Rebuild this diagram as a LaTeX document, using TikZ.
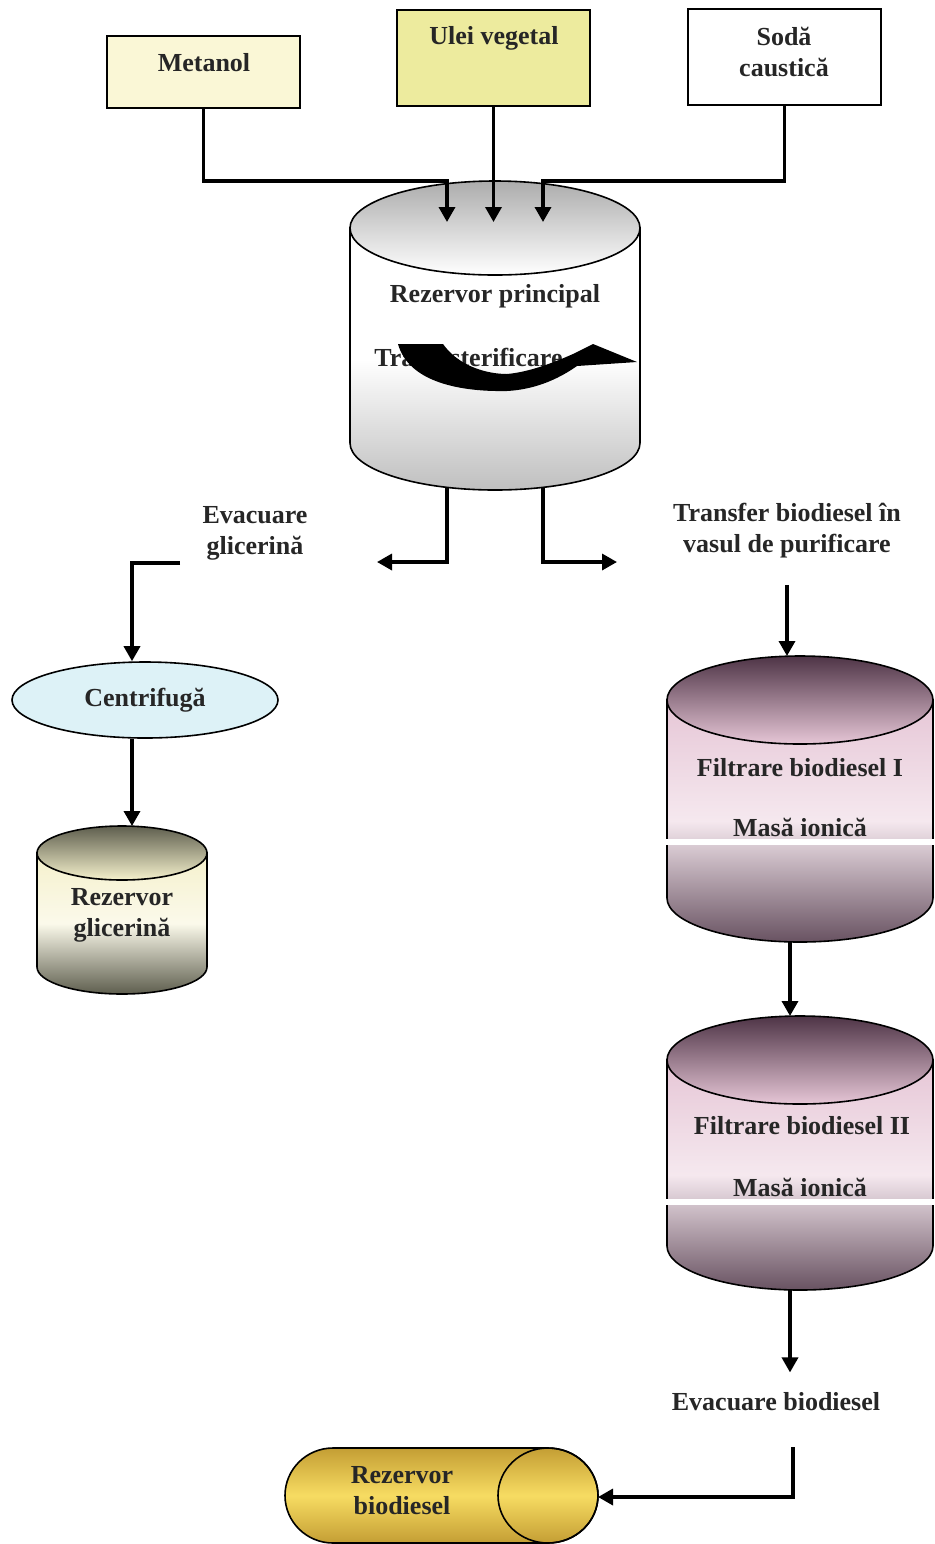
\documentclass[tikz,border=0pt]{standalone}
\usepackage{fontspec}
\setmainfont{Liberation Serif}
\usepackage{xcolor}
\definecolor{METcolor}{HTML}{FAF7D6}
\definecolor{ULEIcolor}{HTML}{EDEB9E}
\definecolor{CENTcolor}{HTML}{DDF2F7}
\definecolor{FILTdark}{HTML}{4E3446}
\definecolor{FILTpink}{HTML}{E6C6D6}
\definecolor{GLICdark}{HTML}{5E5E4E}
\definecolor{GLICbody}{HTML}{F5F1CC}
\definecolor{BIOdark}{HTML}{C49E34}
\definecolor{BIOlight}{HTML}{F7DC62}
\usepackage{tikz}
\usetikzlibrary{math, calc, arrows.meta, shapes.geometric}

\begin{document}
\begin{tikzpicture}[x=0.5pt, y=-0.5pt]
    \tikzset{%
        flow/.style={line width=1.7pt, -{Triangle[length=7.5pt, width=8pt]}},
        lbl/.style={font=\bfseries\fontsize{13}{15.5}\selectfont, align=center, text=black!85, inner sep=1pt},
        box/.style={draw, line width=0.8pt, minimum width=96.5pt},
        pics/tank/.style args={#1/#2/#3/#4/#5/#6}{code={%
                        \tikzmath{%
                            \trx=#1;
                            \trh=#2;
                            \try=#3;
                        };
                        % body
                        \shade [draw, line width=0.8pt, top color=#5, bottom color=#6, middle color=#5!40!white]
                            (-\trx, 0) -- (-\trx, \trh) arc [start angle=180, end angle=0, x radius=\trx, y radius=\try] -- (\trx, 0) -- cycle;
                        % lid
                        \shade [draw, line width=0.8pt, top color=#4, bottom color=#5] (0, 0) ellipse [x radius=\trx, y radius=\try];
                        \coordinate (-top) at (0, -\try);
                        \coordinate (-bot) at (0, \trh+\try);
                    }
            }
    }
    \useasboundingbox (0, 0) rectangle (935, 1544);

    % inputs
    \node [box, fill=METcolor, minimum height=36pt] (metanol) at (203.5, 72) {};
    \node [lbl] (metanollbl) at (204, 63) {Metanol};
    \node [box, fill=ULEIcolor, minimum height=48pt] (ulei) at (493.5, 58) {};
    \node [lbl] (uleilbl) at (494, 38) {Ulei vegetal};
    \node [box, fill=white, minimum height=48pt] (soda) at (784.5, 57) {};
    \node [lbl] (sodalbl) at (784, 52) {Sodă\\caustică};

    % tanks
    \pic (main) at (495, 228) {tank=145/215/47/gray!65/white/gray!50};
    \pic (filt1) at (800, 700) {tank=133/198/44/FILTdark/FILTpink/FILTdark!85};
    \pic (filt2) at (800, 1060) {tank=133/186/44/FILTdark/FILTpink/FILTdark!85};
    \pic (glic) at (122, 853) {tank=85/114/27/GLICdark/GLICbody/GLICdark};
    \fill [white] (660, 839) rectangle (935, 845);
    \fill [white] (660, 1199) rectangle (935, 1205);

    % biodiesel tank
    \shade [draw, line width=0.8pt, top color=BIOdark, bottom color=BIOdark, middle color=BIOlight]
        (548, 1448) -- (333, 1448) arc [start angle=270, end angle=90, x radius=48, y radius=47.5]
        -- (548, 1543) arc [start angle=90, end angle=-90, x radius=50, y radius=47.5] -- cycle;
    \draw [line width=0.8pt] (548, 1495.5) ellipse [x radius=50, y radius=47.5];
    \coordinate (bioend) at (598, 1497);

    % texts
    \node [lbl] (mainlbl) at (495, 296) {Rezervor principal};
    \node [lbl, anchor=west] (translbl) at (372, 357) {Transesterificare};
    \fill [black] (398, 344) -- (443, 344) .. controls (460, 368) and (490, 374) .. (507, 374)
        .. controls (530, 372) and (555, 362) .. (573, 354) -- (593, 344) -- (637, 362) -- (577, 366)
        .. controls (550, 385) and (525, 390) .. (507, 391)
        .. controls (455, 392) and (408, 380) .. (398, 344) -- cycle;
    \node [lbl] (filt1lbl) at (800, 768) {Filtrare biodiesel I};
    \node [lbl] (ion1lbl) at (800, 827) {Masă ionică};
    \node [lbl] (filt2lbl) at (802, 1126) {Filtrare biodiesel II};
    \node [lbl] (ion2lbl) at (800, 1187) {Masă ionică};
    \node [lbl] (gliclbl) at (122, 915) {Rezervor\\glicerină};
    \node [lbl] (biolbl) at (402, 1491) {Rezervor\\biodiesel};
    \node [lbl] (evglilbl) at (255, 533) {Evacuare\\glicerină};
    \node [lbl] (transferlbl) at (787, 531) {Transfer biodiesel în\\vasul de purificare};
    \node [lbl] (evbiolbl) at (776, 1402) {Evacuare biodiesel};
    \node [lbl, draw, ellipse, fill=CENTcolor, line width=0.8pt, minimum width=133pt, minimum height=38pt] (centrifuga) at (145, 700) {Centrifugă};

    % feed lines
    \coordinate (in1) at (447, 222);
    \coordinate (in2) at (493.5, 222);
    \coordinate (in3) at (543, 222);
    \draw [flow] (metanol.south) -- ++(0, 72) -| (in1);
    \draw [flow] (ulei.south) -- (in2);
    \draw [flow] (soda.south) -- ++(0, 75) -| (in3);

    % outlets
    \coordinate (out1) at (447, 488);
    \coordinate (out2) at (543, 488);
    \coordinate (glyend) at (377, 562);
    \coordinate (bdend) at (617, 562);
    \draw [flow] (out1) |- (glyend);
    \draw [flow] (out2) |- (bdend);

    % glycerine branch
    \coordinate (glystart) at (180, 563);
    \draw [flow] (glystart) -| ($(centrifuga.north)+(-13, 0)$);
    \draw [flow] ($(centrifuga.south)+(-13, 0)$) -- ($(glic-top)+(10, 0)$);

    % biodiesel branch
    \draw [flow] ([yshift=-12pt]transferlbl.south) -- (transferlbl.south |- filt1-top);
    \draw [flow] ($(filt1-bot)+(-10, 0)$) -- ($(filt2-top)+(-10, 0)$);
    \draw [flow] ($(filt2-bot)+(-10, 0)$) -- ($(evbiolbl.north)+(14, -18)$);
    \coordinate (evout) at (793, 1447);
    \draw [flow] (evout) |- (bioend);

\end{tikzpicture}
\end{document}
